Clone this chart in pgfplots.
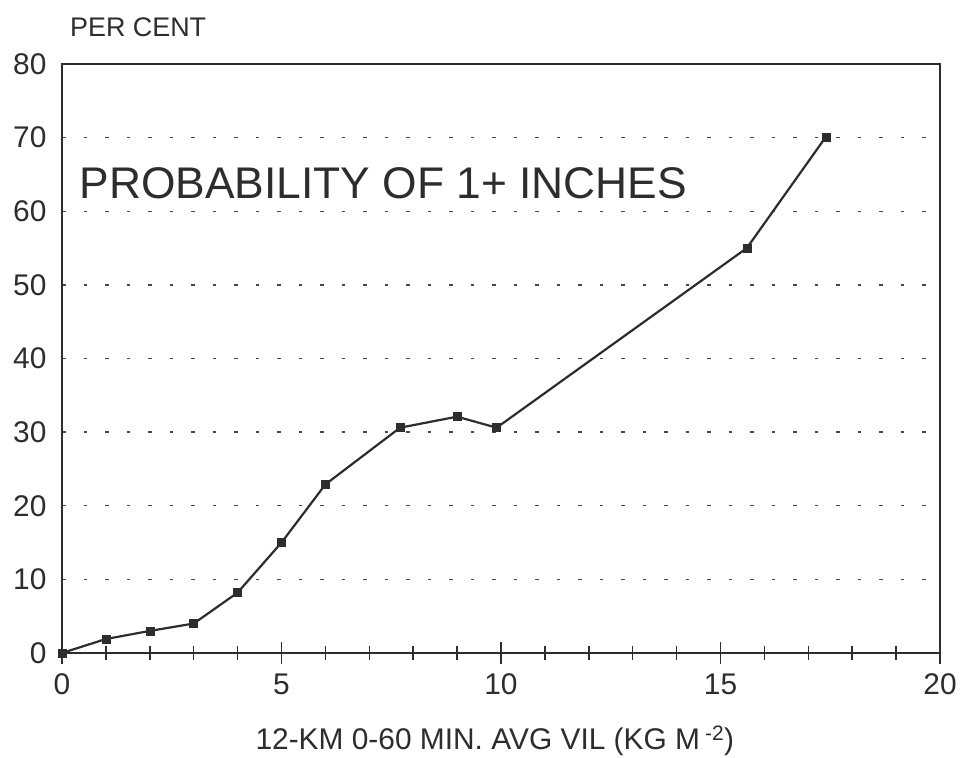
\documentclass[border=0pt]{standalone}
\usepackage{pgfplots}
\pgfplotsset{compat=1.18}
\usepackage{fontspec}
\setmainfont{Liberation Sans}

\definecolor{ink}{RGB}{45,45,45}
\definecolor{gridink}{RGB}{70,70,70}

% probability of hail of one inch or more vs. 12-km VIL
\pgfplotstableread{
vil  pct
0    0
1    1.9
2    3.0
3    4.0
4    8.2
5    15.0
6    22.9
7.7  30.6
9.0  32.1
9.9  30.6
15.6 55.0
17.4 70.1
}\probdata

\begin{document}
\begin{tikzpicture}
\useasboundingbox (0,0) rectangle (963bp,758bp);
\begin{axis}[
  at={(62bp,105bp)}, anchor=south west,
  width=878bp, height=589bp, scale only axis,
  xmin=0, xmax=20, ymin=0, ymax=80,
  xtick={0,5,...,20}, minor x tick num=4,
  ytick={0,10,...,80},
  xtick pos=bottom, ytick pos=left,
  ymajorgrids,
  grid style={dash pattern=on 3.5bp off 18bp, line width=1.4bp, gridink},
  axis line style={ink, line width=2.4bp},
  x axis line style={line width=3bp},
  tick align=center,
  xtick style={ink, line width=1.5bp},
  major tick length=22bp,
  minor tick length=13bp,
  ytick style={draw=none},
  /pgf/number format/assume math mode=true,
  tick label style={font=\fontsize{30}{32}\selectfont, text=ink},
  xticklabel style={yshift=-6bp},
  yticklabel style={xshift=-1bp},
  xlabel={12-KM 0-60 MIN. AVG VIL (KG M\hspace{5bp}\textsuperscript{-2})},
  xlabel style={font=\fontsize{30}{32}\selectfont, text=ink,
    at={(rel axis cs:0.493,0)}, anchor=base, yshift=-96bp},
  clip=false,
]
\addplot[ink, line width=2.2bp, mark=square*, mark size=4bp,
  mark options={fill=ink, draw=ink, line width=0.5bp}]
  table[x=vil, y=pct] {\probdata};
\node[anchor=west, font=\fontsize{44.5}{46}\selectfont, text=ink, inner sep=0pt]
  at (axis cs:0.4,63.8) {PROBABILITY OF 1+ INCHES};
\end{axis}
\node[anchor=base west, font=\fontsize{27}{28}\selectfont, text=ink, inner sep=0pt]
  at (70bp,721bp) {PER CENT};
\end{tikzpicture}
\end{document}
